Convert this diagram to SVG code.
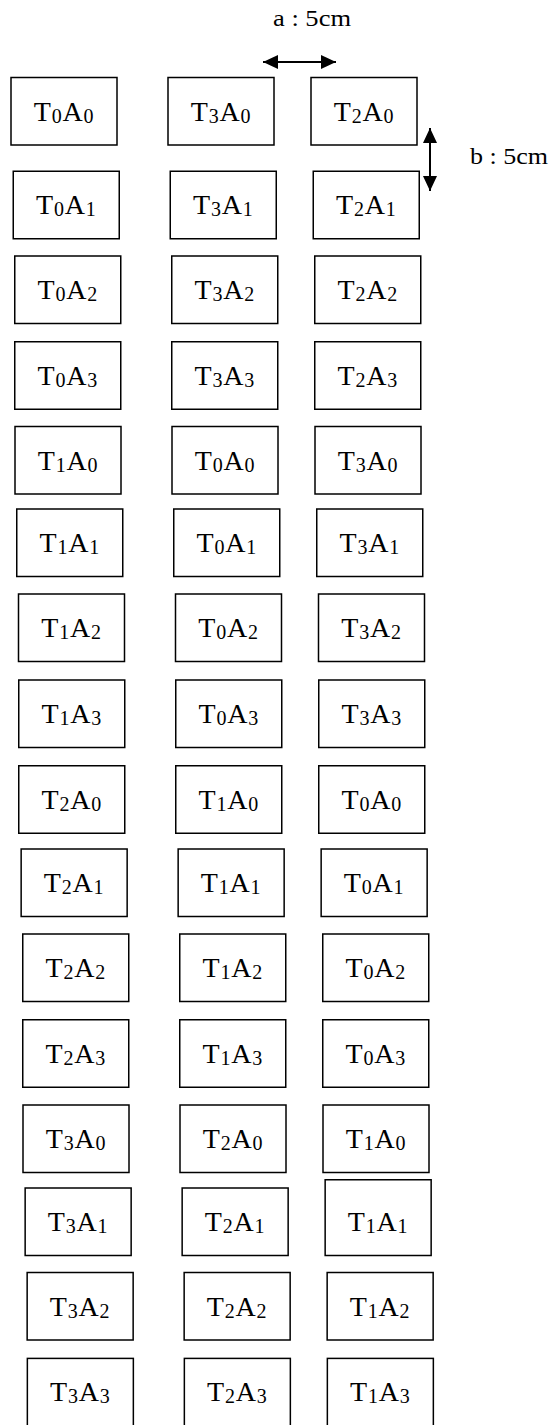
<svg xmlns="http://www.w3.org/2000/svg" width="553" height="1425" viewBox="0 0 553 1425">
<style>
rect.b{fill:#fff;stroke:#000;stroke-width:1.5}
text{font-family:"Liberation Serif","Times New Roman",serif;fill:#000}
text.n{font-size:28px;text-anchor:middle;letter-spacing:0.8px}
tspan.s{font-size:20px}
text.l{font-size:24px}
.c{stroke:#000;stroke-width:2;fill:none}
</style>
<defs>
<marker id="ah" markerUnits="userSpaceOnUse" markerWidth="15" markerHeight="14" refX="15" refY="7" orient="auto-start-reverse" viewBox="0 0 15 14"><path d="M0,0 L15,7 L0,14 z" fill="#000"/></marker>
</defs>
<g id="connectors">
<line class="c" x1="263" y1="62" x2="336" y2="62" marker-start="url(#ah)" marker-end="url(#ah)"/>
<line class="c" x1="430" y1="128" x2="430" y2="191" marker-start="url(#ah)" marker-end="url(#ah)"/>
</g>
<g id="labels">
<text class="l" x="273" y="26" textLength="78" lengthAdjust="spacingAndGlyphs">a : 5cm</text>
<text class="l" x="470" y="164" textLength="78" lengthAdjust="spacingAndGlyphs">b : 5cm</text>
</g>
<g id="r0c1"><rect class="b" x="11" y="77.5" width="106" height="67.5"/><text class="n" x="64" y="120.5">T<tspan class="s" dy="2">0</tspan><tspan dy="-2">A</tspan><tspan class="s" dy="2">0</tspan></text></g>
<g id="r0c2"><rect class="b" x="168" y="77.5" width="106" height="67.5"/><text class="n" x="221" y="120.5">T<tspan class="s" dy="2">3</tspan><tspan dy="-2">A</tspan><tspan class="s" dy="2">0</tspan></text></g>
<g id="r0c3"><rect class="b" x="311" y="77.5" width="106" height="67.5"/><text class="n" x="364" y="120.5">T<tspan class="s" dy="2">2</tspan><tspan dy="-2">A</tspan><tspan class="s" dy="2">0</tspan></text></g>
<g id="r1c1"><rect class="b" x="13.25" y="171.25" width="106" height="67.5"/><text class="n" x="66.25" y="214.3">T<tspan class="s" dy="2">0</tspan><tspan dy="-2">A</tspan><tspan class="s" dy="2">1</tspan></text></g>
<g id="r1c2"><rect class="b" x="170.25" y="171.25" width="106" height="67.5"/><text class="n" x="223.25" y="214.3">T<tspan class="s" dy="2">3</tspan><tspan dy="-2">A</tspan><tspan class="s" dy="2">1</tspan></text></g>
<g id="r1c3"><rect class="b" x="313.25" y="171.25" width="106" height="67.5"/><text class="n" x="366.25" y="214.3">T<tspan class="s" dy="2">2</tspan><tspan dy="-2">A</tspan><tspan class="s" dy="2">1</tspan></text></g>
<g id="r2c1"><rect class="b" x="14.75" y="256" width="106" height="67.5"/><text class="n" x="67.75" y="299.1">T<tspan class="s" dy="2">0</tspan><tspan dy="-2">A</tspan><tspan class="s" dy="2">2</tspan></text></g>
<g id="r2c2"><rect class="b" x="171.75" y="256" width="106" height="67.5"/><text class="n" x="224.75" y="299.1">T<tspan class="s" dy="2">3</tspan><tspan dy="-2">A</tspan><tspan class="s" dy="2">2</tspan></text></g>
<g id="r2c3"><rect class="b" x="314.75" y="256" width="106" height="67.5"/><text class="n" x="367.75" y="299.1">T<tspan class="s" dy="2">2</tspan><tspan dy="-2">A</tspan><tspan class="s" dy="2">2</tspan></text></g>
<g id="r3c1"><rect class="b" x="14.75" y="341.75" width="106" height="67.5"/><text class="n" x="67.75" y="384.8">T<tspan class="s" dy="2">0</tspan><tspan dy="-2">A</tspan><tspan class="s" dy="2">3</tspan></text></g>
<g id="r3c2"><rect class="b" x="171.75" y="341.75" width="106" height="67.5"/><text class="n" x="224.75" y="384.8">T<tspan class="s" dy="2">3</tspan><tspan dy="-2">A</tspan><tspan class="s" dy="2">3</tspan></text></g>
<g id="r3c3"><rect class="b" x="314.75" y="341.75" width="106" height="67.5"/><text class="n" x="367.75" y="384.8">T<tspan class="s" dy="2">2</tspan><tspan dy="-2">A</tspan><tspan class="s" dy="2">3</tspan></text></g>
<g id="r4c1"><rect class="b" x="15" y="426.5" width="106" height="67.5"/><text class="n" x="68" y="469.5">T<tspan class="s" dy="2">1</tspan><tspan dy="-2">A</tspan><tspan class="s" dy="2">0</tspan></text></g>
<g id="r4c2"><rect class="b" x="172" y="426.5" width="106" height="67.5"/><text class="n" x="225" y="469.5">T<tspan class="s" dy="2">0</tspan><tspan dy="-2">A</tspan><tspan class="s" dy="2">0</tspan></text></g>
<g id="r4c3"><rect class="b" x="315" y="426.5" width="106" height="67.5"/><text class="n" x="368" y="469.5">T<tspan class="s" dy="2">3</tspan><tspan dy="-2">A</tspan><tspan class="s" dy="2">0</tspan></text></g>
<g id="r5c1"><rect class="b" x="16.75" y="509" width="106" height="67.5"/><text class="n" x="69.75" y="552.1">T<tspan class="s" dy="2">1</tspan><tspan dy="-2">A</tspan><tspan class="s" dy="2">1</tspan></text></g>
<g id="r5c2"><rect class="b" x="173.75" y="509" width="106" height="67.5"/><text class="n" x="226.75" y="552.1">T<tspan class="s" dy="2">0</tspan><tspan dy="-2">A</tspan><tspan class="s" dy="2">1</tspan></text></g>
<g id="r5c3"><rect class="b" x="316.75" y="509" width="106" height="67.5"/><text class="n" x="369.75" y="552.1">T<tspan class="s" dy="2">3</tspan><tspan dy="-2">A</tspan><tspan class="s" dy="2">1</tspan></text></g>
<g id="r6c1"><rect class="b" x="18.5" y="594" width="106" height="67.5"/><text class="n" x="71.5" y="637">T<tspan class="s" dy="2">1</tspan><tspan dy="-2">A</tspan><tspan class="s" dy="2">2</tspan></text></g>
<g id="r6c2"><rect class="b" x="175.5" y="594" width="106" height="67.5"/><text class="n" x="228.5" y="637">T<tspan class="s" dy="2">0</tspan><tspan dy="-2">A</tspan><tspan class="s" dy="2">2</tspan></text></g>
<g id="r6c3"><rect class="b" x="318.5" y="594" width="106" height="67.5"/><text class="n" x="371.5" y="637">T<tspan class="s" dy="2">3</tspan><tspan dy="-2">A</tspan><tspan class="s" dy="2">2</tspan></text></g>
<g id="r7c1"><rect class="b" x="18.75" y="680" width="106" height="67.5"/><text class="n" x="71.75" y="723">T<tspan class="s" dy="2">1</tspan><tspan dy="-2">A</tspan><tspan class="s" dy="2">3</tspan></text></g>
<g id="r7c2"><rect class="b" x="175.75" y="680" width="106" height="67.5"/><text class="n" x="228.75" y="723">T<tspan class="s" dy="2">0</tspan><tspan dy="-2">A</tspan><tspan class="s" dy="2">3</tspan></text></g>
<g id="r7c3"><rect class="b" x="318.75" y="680" width="106" height="67.5"/><text class="n" x="371.75" y="723">T<tspan class="s" dy="2">3</tspan><tspan dy="-2">A</tspan><tspan class="s" dy="2">3</tspan></text></g>
<g id="r8c1"><rect class="b" x="18.75" y="765.75" width="106" height="67.5"/><text class="n" x="71.75" y="808.8">T<tspan class="s" dy="2">2</tspan><tspan dy="-2">A</tspan><tspan class="s" dy="2">0</tspan></text></g>
<g id="r8c2"><rect class="b" x="175.75" y="765.75" width="106" height="67.5"/><text class="n" x="228.75" y="808.8">T<tspan class="s" dy="2">1</tspan><tspan dy="-2">A</tspan><tspan class="s" dy="2">0</tspan></text></g>
<g id="r8c3"><rect class="b" x="318.75" y="765.75" width="106" height="67.5"/><text class="n" x="371.75" y="808.8">T<tspan class="s" dy="2">0</tspan><tspan dy="-2">A</tspan><tspan class="s" dy="2">0</tspan></text></g>
<g id="r9c1"><rect class="b" x="21.15" y="849" width="106" height="67.5"/><text class="n" x="74.15" y="892.1">T<tspan class="s" dy="2">2</tspan><tspan dy="-2">A</tspan><tspan class="s" dy="2">1</tspan></text></g>
<g id="r9c2"><rect class="b" x="178.15" y="849" width="106" height="67.5"/><text class="n" x="231.15" y="892.1">T<tspan class="s" dy="2">1</tspan><tspan dy="-2">A</tspan><tspan class="s" dy="2">1</tspan></text></g>
<g id="r9c3"><rect class="b" x="321.15" y="849" width="106" height="67.5"/><text class="n" x="374.15" y="892.1">T<tspan class="s" dy="2">0</tspan><tspan dy="-2">A</tspan><tspan class="s" dy="2">1</tspan></text></g>
<g id="r10c1"><rect class="b" x="22.75" y="934" width="106" height="67.5"/><text class="n" x="75.75" y="977.1">T<tspan class="s" dy="2">2</tspan><tspan dy="-2">A</tspan><tspan class="s" dy="2">2</tspan></text></g>
<g id="r10c2"><rect class="b" x="179.75" y="934" width="106" height="67.5"/><text class="n" x="232.75" y="977.1">T<tspan class="s" dy="2">1</tspan><tspan dy="-2">A</tspan><tspan class="s" dy="2">2</tspan></text></g>
<g id="r10c3"><rect class="b" x="322.75" y="934" width="106" height="67.5"/><text class="n" x="375.75" y="977.1">T<tspan class="s" dy="2">0</tspan><tspan dy="-2">A</tspan><tspan class="s" dy="2">2</tspan></text></g>
<g id="r11c1"><rect class="b" x="22.75" y="1019.75" width="106" height="67.5"/><text class="n" x="75.75" y="1062.8">T<tspan class="s" dy="2">2</tspan><tspan dy="-2">A</tspan><tspan class="s" dy="2">3</tspan></text></g>
<g id="r11c2"><rect class="b" x="179.75" y="1019.75" width="106" height="67.5"/><text class="n" x="232.75" y="1062.8">T<tspan class="s" dy="2">1</tspan><tspan dy="-2">A</tspan><tspan class="s" dy="2">3</tspan></text></g>
<g id="r11c3"><rect class="b" x="322.75" y="1019.75" width="106" height="67.5"/><text class="n" x="375.75" y="1062.8">T<tspan class="s" dy="2">0</tspan><tspan dy="-2">A</tspan><tspan class="s" dy="2">3</tspan></text></g>
<g id="r12c1"><rect class="b" x="23" y="1105" width="106" height="67.5"/><text class="n" x="76" y="1148">T<tspan class="s" dy="2">3</tspan><tspan dy="-2">A</tspan><tspan class="s" dy="2">0</tspan></text></g>
<g id="r12c2"><rect class="b" x="180" y="1105" width="106" height="67.5"/><text class="n" x="233" y="1148">T<tspan class="s" dy="2">2</tspan><tspan dy="-2">A</tspan><tspan class="s" dy="2">0</tspan></text></g>
<g id="r12c3"><rect class="b" x="323" y="1105" width="106" height="67.5"/><text class="n" x="376" y="1148">T<tspan class="s" dy="2">1</tspan><tspan dy="-2">A</tspan><tspan class="s" dy="2">0</tspan></text></g>
<g id="r13c1"><rect class="b" x="25.15" y="1188" width="106" height="67.5"/><text class="n" x="78.15" y="1231.1">T<tspan class="s" dy="2">3</tspan><tspan dy="-2">A</tspan><tspan class="s" dy="2">1</tspan></text></g>
<g id="r13c2"><rect class="b" x="182.15" y="1188" width="106" height="67.5"/><text class="n" x="235.15" y="1231.1">T<tspan class="s" dy="2">2</tspan><tspan dy="-2">A</tspan><tspan class="s" dy="2">1</tspan></text></g>
<g id="r13c3"><rect class="b" x="325.15" y="1179.75" width="106" height="75.75"/><text class="n" x="378.15" y="1231.1">T<tspan class="s" dy="2">1</tspan><tspan dy="-2">A</tspan><tspan class="s" dy="2">1</tspan></text></g>
<g id="r14c1"><rect class="b" x="27.15" y="1272.5" width="106" height="67.5"/><text class="n" x="80.15" y="1315.6">T<tspan class="s" dy="2">3</tspan><tspan dy="-2">A</tspan><tspan class="s" dy="2">2</tspan></text></g>
<g id="r14c2"><rect class="b" x="184.15" y="1272.5" width="106" height="67.5"/><text class="n" x="237.15" y="1315.6">T<tspan class="s" dy="2">2</tspan><tspan dy="-2">A</tspan><tspan class="s" dy="2">2</tspan></text></g>
<g id="r14c3"><rect class="b" x="327.15" y="1272.5" width="106" height="67.5"/><text class="n" x="380.15" y="1315.6">T<tspan class="s" dy="2">1</tspan><tspan dy="-2">A</tspan><tspan class="s" dy="2">2</tspan></text></g>
<g id="r15c1"><rect class="b" x="27.35" y="1358.4" width="106" height="67.5"/><text class="n" x="80.35" y="1401.4">T<tspan class="s" dy="2">3</tspan><tspan dy="-2">A</tspan><tspan class="s" dy="2">3</tspan></text></g>
<g id="r15c2"><rect class="b" x="184.35" y="1358.4" width="106" height="67.5"/><text class="n" x="237.35" y="1401.4">T<tspan class="s" dy="2">2</tspan><tspan dy="-2">A</tspan><tspan class="s" dy="2">3</tspan></text></g>
<g id="r15c3"><rect class="b" x="327.35" y="1358.4" width="106" height="67.5"/><text class="n" x="380.35" y="1401.4">T<tspan class="s" dy="2">1</tspan><tspan dy="-2">A</tspan><tspan class="s" dy="2">3</tspan></text></g>
</svg>
